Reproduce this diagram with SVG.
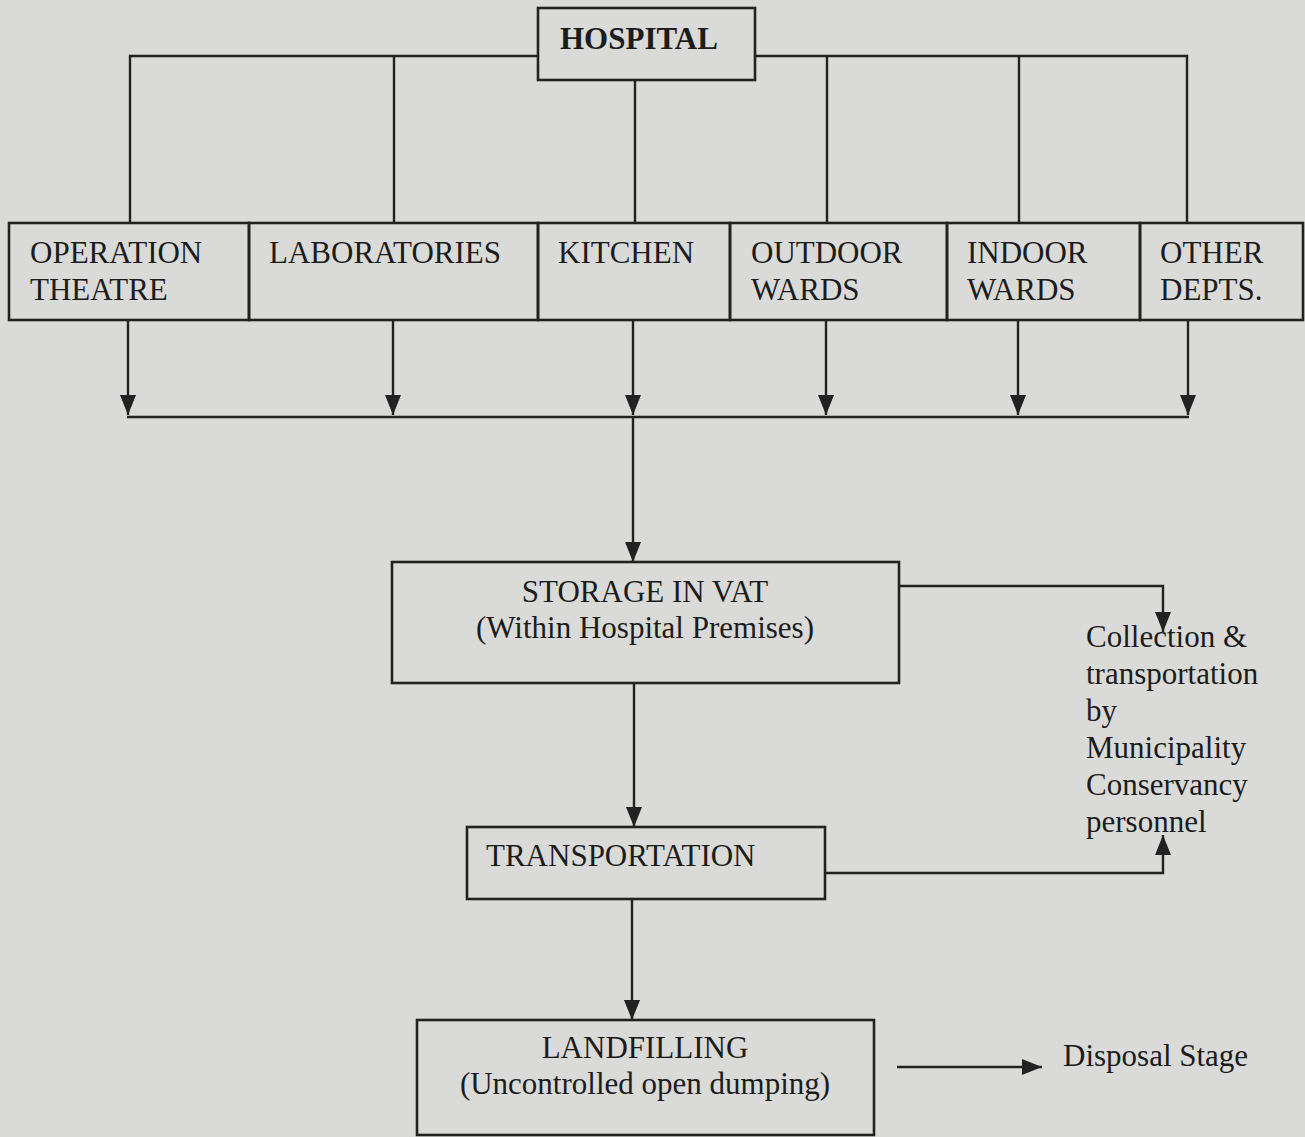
<svg xmlns="http://www.w3.org/2000/svg" width="1305" height="1137" viewBox="0 0 1305 1137">
<defs>
<marker id="ah" viewBox="0 0 20 16" refX="20" refY="8" markerWidth="20" markerHeight="16" orient="auto" markerUnits="userSpaceOnUse">
<path d="M0,0 L20,8 L0,16 z" fill="#222"/>
</marker>
<style>
.box{fill:none;stroke:#222;stroke-width:2.6}
.ln{fill:none;stroke:#222;stroke-width:2.4}
.arr{fill:none;stroke:#222;stroke-width:2.4;marker-end:url(#ah)}
.t{font-family:"Liberation Serif","Times New Roman",serif;font-size:31px;fill:#1c1c1c}
.b{font-weight:bold}
.c{text-anchor:middle}
</style>
</defs>
<rect width="1305" height="1137" fill="#dadad8"/>

<g id="connectors">
<path class="ln" d="M130,223 V56 H538"/>
<path class="ln" d="M755,56 H1187 V223"/>
<path class="ln" d="M394,56 V223"/>
<path class="ln" d="M635,80 V223"/>
<path class="ln" d="M827,56 V223"/>
<path class="ln" d="M1019,56 V223"/>
<path class="arr" d="M128,320 V415"/>
<path class="arr" d="M393,320 V415"/>
<path class="arr" d="M633,320 V415"/>
<path class="arr" d="M826,320 V415"/>
<path class="arr" d="M1018,320 V415"/>
<path class="arr" d="M1188,320 V415"/>
<path class="ln" d="M127,417 H1189"/>
<path class="arr" d="M633,417 V562"/>
<path class="arr" d="M899,586 H1163 V632"/>
<path class="arr" d="M634,683 V827"/>
<path class="arr" d="M825,873 H1163 V835"/>
<path class="arr" d="M632,899 V1020"/>
<path class="arr" d="M897,1067 H1042"/>
</g>

<g id="hospital">
<rect class="box" x="538" y="8" width="217" height="72"/>
<text class="t b" x="560" y="49">HOSPITAL</text>
</g>

<g id="operation-theatre">
<rect class="box" x="9" y="223" width="240" height="97"/>
<text class="t" x="30" y="263">OPERATION</text>
<text class="t" x="30" y="300">THEATRE</text>
</g>
<g id="laboratories">
<rect class="box" x="249" y="223" width="289" height="97"/>
<text class="t" x="269" y="263">LABORATORIES</text>
</g>
<g id="kitchen">
<rect class="box" x="538" y="223" width="192" height="97"/>
<text class="t" x="558" y="263">KITCHEN</text>
</g>
<g id="outdoor-wards">
<rect class="box" x="730" y="223" width="217" height="97"/>
<text class="t" x="751" y="263">OUTDOOR</text>
<text class="t" x="751" y="300">WARDS</text>
</g>
<g id="indoor-wards">
<rect class="box" x="947" y="223" width="193" height="97"/>
<text class="t" x="967" y="263">INDOOR</text>
<text class="t" x="967" y="300">WARDS</text>
</g>
<g id="other-depts">
<rect class="box" x="1140" y="223" width="163" height="97"/>
<text class="t" x="1160" y="263">OTHER</text>
<text class="t" x="1160" y="300">DEPTS.</text>
</g>

<g id="storage">
<rect class="box" x="392" y="562" width="507" height="121"/>
<text class="t c" x="645" y="602">STORAGE IN VAT</text>
<text class="t c" x="645" y="638">(Within Hospital Premises)</text>
</g>

<g id="collection">
<text class="t" x="1086" y="647">Collection &amp;</text>
<text class="t" x="1086" y="684">transportation</text>
<text class="t" x="1086" y="721">by</text>
<text class="t" x="1086" y="758">Municipality</text>
<text class="t" x="1086" y="795">Conservancy</text>
<text class="t" x="1086" y="832">personnel</text>
</g>

<g id="transportation">
<rect class="box" x="467" y="827" width="358" height="72"/>
<text class="t" x="486" y="866">TRANSPORTATION</text>
</g>

<g id="landfilling">
<rect class="box" x="417" y="1020" width="457" height="115"/>
<text class="t c" x="645" y="1058">LANDFILLING</text>
<text class="t c" x="645" y="1094">(Uncontrolled open dumping)</text>
</g>

<g id="disposal">
<text class="t" x="1063" y="1066">Disposal Stage</text>
</g>
</svg>
